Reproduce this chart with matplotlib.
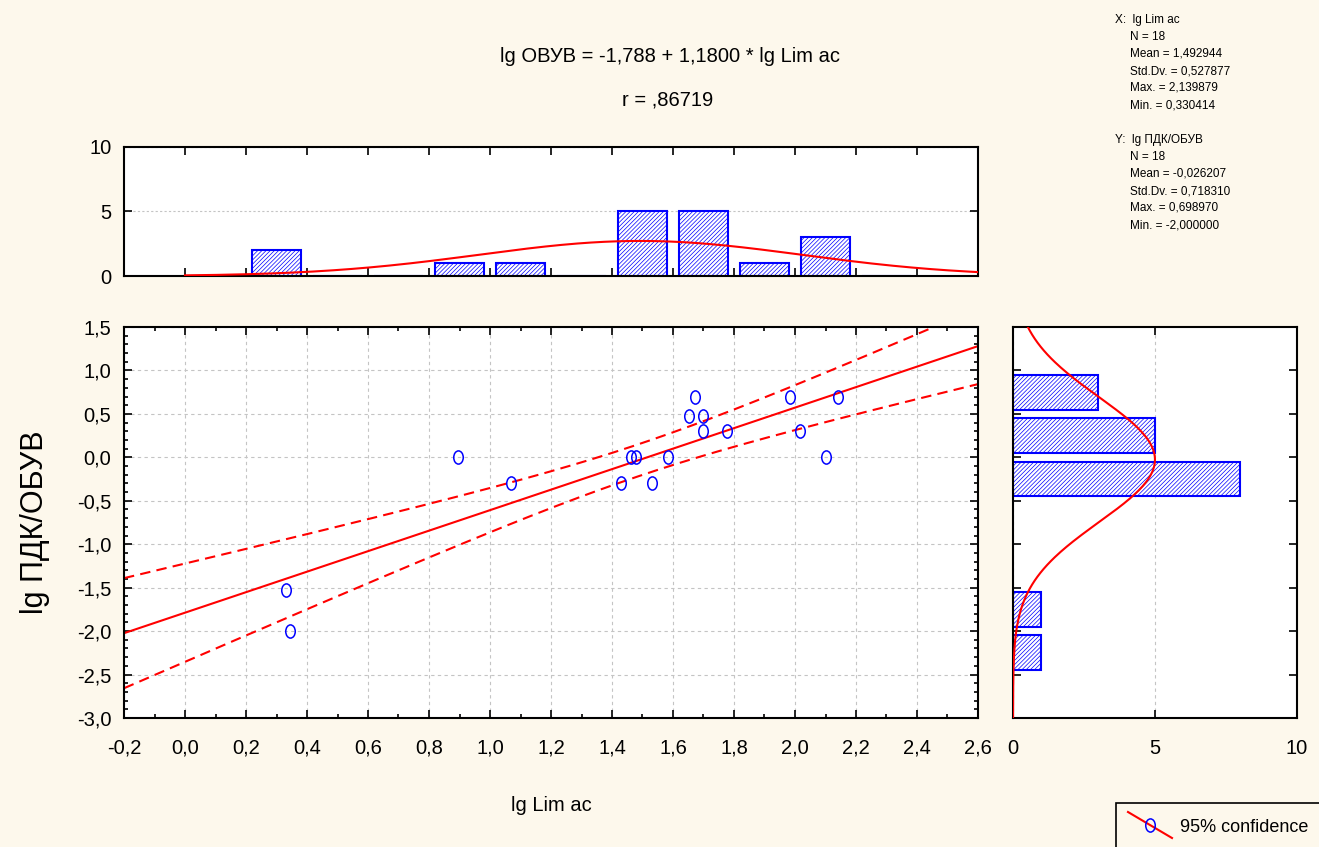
import numpy as np
import matplotlib.pyplot as plt
from matplotlib.path import Path
from matplotlib.transforms import Affine2D
from matplotlib.patches import Rectangle
from matplotlib.lines import Line2D
from matplotlib.ticker import FuncFormatter, MultipleLocator

plt.rcParams["font.family"] = ["Liberation Sans", "DejaVu Sans"]
plt.rcParams["axes.unicode_minus"] = False
plt.rcParams["hatch.color"] = "blue"
plt.rcParams["hatch.linewidth"] = 0.5

BG = "#fdf8ec"
W, H = 1319, 847

# lg Lim ac and lg ПДК/ОБУВ for the 18 substances
lg_lim = [0.330414, 0.345, 0.895, 1.069, 1.431, 1.462, 1.478, 1.531, 1.583,
          1.651, 1.672, 1.699, 1.699, 1.778, 1.982, 2.017, 2.103, 2.139879]
lg_pdk = [-1.522879, -2.0, 0.0, -0.30103, -0.30103, 0.0, 0.0, -0.30103, 0.0,
          0.477121, 0.698970, 0.477121, 0.30103, 0.30103, 0.698970, 0.30103,
          0.0, 0.698970]

# fitted line as printed in the header
intercept = -1.788
slope = 1.18
r_text = "r = ,86719"
t_crit = 2.1199  # Student t, 0.975, 16 df

x_edges = np.round(np.arange(0.0, 2.41, 0.2), 1)
y_edges = np.arange(-3.0, 1.01, 0.5)

x_stats = ["X:  lg Lim ac", "N = 18", "Mean = 1,492944", "Std.Dv. = 0,527877",
           "Max. = 2,139879", "Min. = 0,330414"]
y_stats = ["Y:  lg ПДК/ОБУВ", "N = 18", "Mean = -0,026207", "Std.Dv. = 0,718310",
           "Max. = 0,698970", "Min. = -2,000000"]

TICK_FS = 14.5


def box(left, top, right, bottom):
    return [left / W, 1 - bottom / H, (right - left) / W, (bottom - top) / H]


def comma(fmt):
    return FuncFormatter(lambda v, _: fmt.format(v).replace(".", ","))


def counts(values, edges):
    # bins closed on the right: (a, b]
    idx = np.searchsorted(edges, values, side="left") - 1
    return np.bincount(idx, minlength=len(edges) - 1)[:len(edges) - 1]


def normal(v, mean, sd):
    return np.exp(-0.5 * ((v - mean) / sd) ** 2) / (sd * np.sqrt(2 * np.pi))


def frame(ax):
    for s in ax.spines.values():
        s.set_linewidth(1.5)
    ax.tick_params(which="both", direction="in", top=True, right=True,
                   width=1.2, labelsize=TICK_FS)
    ax.tick_params(which="major", length=6)
    ax.tick_params(which="minor", length=3)


x = np.array(lg_lim)
y = np.array(lg_pdk)
n = len(x)

fig = plt.figure(figsize=(W / 100, H / 100), dpi=100, facecolor=BG)

# scatter with regression line and 95% band
ax = fig.add_axes(box(124, 327, 978, 718))
ax.set_xlim(-0.2, 2.6)
ax.set_ylim(-3.0, 1.5)
ax.xaxis.set_major_locator(MultipleLocator(0.2))
ax.xaxis.set_minor_locator(MultipleLocator(0.1))
ax.yaxis.set_major_locator(MultipleLocator(0.5))
ax.yaxis.set_minor_locator(MultipleLocator(0.1))
ax.xaxis.set_major_formatter(comma("{:.1f}"))
ax.yaxis.set_major_formatter(comma("{:.1f}"))
ax.grid(True, which="major", color="#c4c4c4", linestyle=(0, (3, 3)), lw=0.8)
frame(ax)
ax.tick_params(axis="x", pad=15)
ax.tick_params(axis="y", pad=9)

xs = np.linspace(-0.2, 2.6, 300)
fit = intercept + slope * xs
resid = y - (intercept + slope * x)
s = np.sqrt(np.sum(resid ** 2) / (n - 2))
sxx = np.sum((x - x.mean()) ** 2)
half = t_crit * s * np.sqrt(1 / n + (xs - x.mean()) ** 2 / sxx)
ax.plot(xs, fit, color="red", lw=1.5)
ax.plot(xs, fit + half, color="red", lw=1.5, ls=(0, (5, 3)))
ax.plot(xs, fit - half, color="red", lw=1.5, ls=(0, (5, 3)))

ring = Path.unit_circle().transformed(Affine2D().scale(0.72, 1.0))
ax.plot(x, y, ls="none", marker=ring, ms=9.5, mfc="none", mec="blue", mew=1.1)

# distribution of lg Lim ac
axt = fig.add_axes(box(124, 147, 978, 276))
axt.set_xlim(-0.2, 2.6)
axt.set_ylim(0, 10)
axt.set_xticks(np.round(np.arange(0.0, 2.41, 0.2), 1))
axt.set_yticks([0, 5, 10])
axt.tick_params(axis="x", labelbottom=False)
axt.grid(True, axis="y", color="#c4c4c4", linestyle=(0, (2, 2)), lw=0.8)
frame(axt)
axt.tick_params(axis="y", pad=9)
xc = counts(x, x_edges)
axt.bar((x_edges[:-1] + x_edges[1:]) / 2, xc, width=0.16, color="white",
        edgecolor="blue", hatch="////////", lw=1.5, zorder=2)
gx = np.linspace(0.0, 2.6, 300)
axt.plot(gx, n * 0.2 * normal(gx, x.mean(), x.std(ddof=1)), color="red", lw=1.5, zorder=3)

# distribution of lg ПДК/ОБУВ
axr = fig.add_axes(box(1013, 327, 1297, 718))
axr.set_xlim(0, 10)
axr.set_ylim(-3.0, 1.5)
axr.set_xticks([0, 5, 10])
axr.yaxis.set_major_locator(MultipleLocator(0.5))
axr.tick_params(axis="y", labelleft=False)
axr.grid(True, axis="x", color="#c4c4c4", linestyle=(0, (3, 3)), lw=0.8)
frame(axr)
axr.tick_params(axis="x", pad=15)
yc = counts(y, y_edges)
keep = yc > 0
yctr = (y_edges[:-1] + y_edges[1:]) / 2
axr.barh(yctr[keep], yc[keep], height=0.4, color="white", edgecolor="blue",
         hatch="////////", lw=1.5, zorder=2)
gy = np.linspace(-3.0, 1.5, 300)
axr.plot(n * 0.5 * normal(gy, y.mean(), y.std(ddof=1)), gy, color="red", lw=1.5, zorder=3)

# header and axis titles
header = f"lg ОВУВ = {intercept:.3f} + {slope:.4f} * lg Lim ac".replace(".", ",")
fig.text(670 / W, 1 - 62 / H, header, ha="center", va="baseline", fontsize=14.5)
fig.text(668 / W, 1 - 105 / H, r_text, ha="center", va="baseline", fontsize=14.5)
fig.text(551 / W, 1 - 805 / H, "lg Lim ac", ha="center", va="center", fontsize=14.5)
fig.text(35 / W, 1 - 522 / H, "lg ПДК/ОБУВ", ha="center", va="center",
         rotation=90, fontsize=22)

# descriptive statistics block
for i, line in enumerate(x_stats):
    fig.text((1115 if i == 0 else 1130) / W, 1 - (20 + 17 * i) / H, line,
             ha="left", va="center", fontsize=8.5)
for i, line in enumerate(y_stats):
    fig.text((1115 if i == 0 else 1130) / W, 1 - (140 + 17 * i) / H, line,
             ha="left", va="center", fontsize=8.5)

# legend box
fig.patches.append(Rectangle((1116 / W, 1 - 870 / H), 230 / W, 67 / H,
                             transform=fig.transFigure, fill=False, ec="black", lw=1.2))
fig.lines.append(Line2D([1128 / W, 1172 / W], [1 - 812 / H, 1 - 838 / H],
                        transform=fig.transFigure, color="red", lw=1.5))
fig.lines.append(Line2D([1150 / W], [1 - 825 / H], transform=fig.transFigure, ls="none",
                        marker=ring, ms=9.5, mfc="none", mec="blue", mew=1.1))
fig.text(1180 / W, 1 - 827 / H, "95% confidence", ha="left", va="center", fontsize=13)

fig.savefig("out.png", dpi=100, facecolor=BG)
